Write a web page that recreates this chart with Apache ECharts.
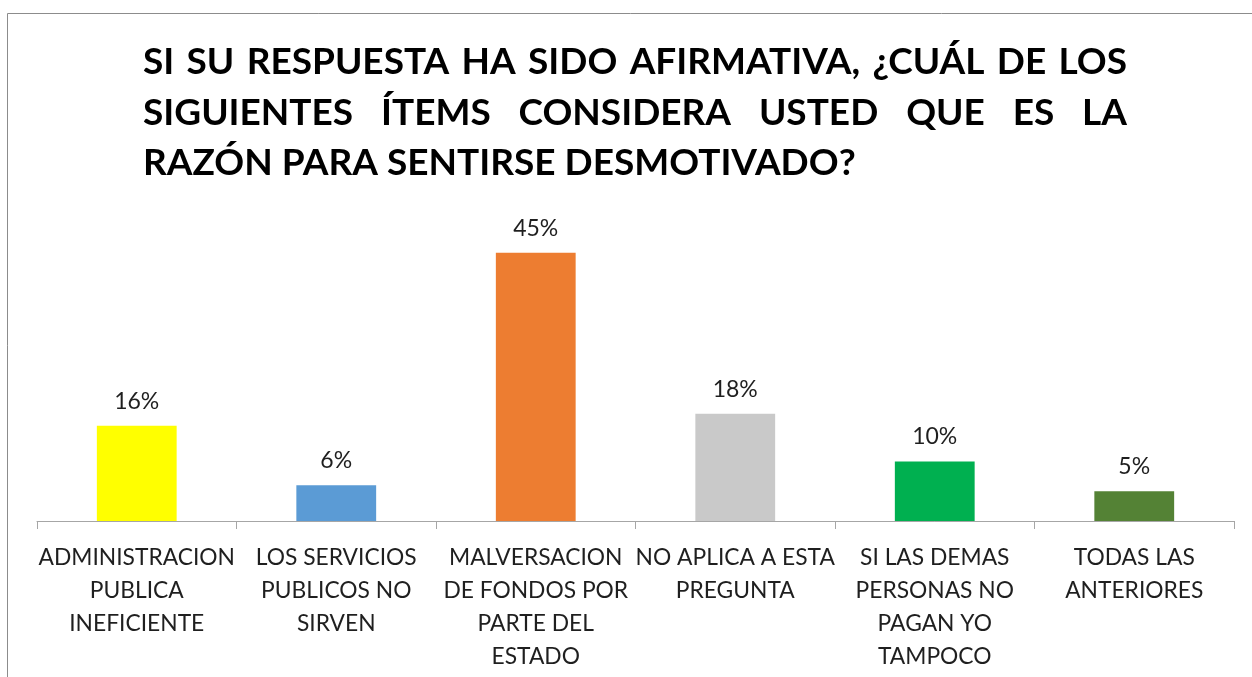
<!DOCTYPE html>
<html>
<head>
<meta charset="utf-8">
<script src="https://cdn.jsdelivr.net/npm/echarts@6/dist/echarts.min.js"></script>
<style>
  html, body { margin: 0; padding: 0; background: #fff; }
  #main { width: 1252px; height: 677px; }
</style>
</head>
<body>
<div id="main"></div>
<script>
var categories = [
  'ADMINISTRACION\nPUBLICA\nINEFICIENTE',
  'LOS SERVICIOS\nPUBLICOS NO\nSIRVEN',
  'MALVERSACION\nDE FONDOS POR\nPARTE DEL\nESTADO',
  'NO APLICA A ESTA\nPREGUNTA',
  'SI LAS DEMAS\nPERSONAS NO\nPAGAN YO\nTAMPOCO',
  'TODAS LAS\nANTERIORES'
];
var values = [0.16, 0.06, 0.45, 0.18, 0.10, 0.05];
var colors = ['#ffff00', '#5b9bd5', '#ed7d31', '#c9c9c9', '#00b050', '#548235'];
var titleLines = [
  'SI SU RESPUESTA HA SIDO AFIRMATIVA, ¿CUÁL DE LOS',
  'SIGUIENTES ÍTEMS CONSIDERA USTED QUE ES LA',
  'RAZÓN PARA SENTIRSE DESMOTIVADO?'
];

// justified title, as in the original (last line left aligned)
var titleFont = 'bold 37px Lato';
var titleLeft = 143, titleRight = 1127;
var titleY = [62, 113, 163];
var measureCtx = document.createElement('canvas').getContext('2d');
measureCtx.font = titleFont;
var titleGraphics = [];
titleLines.forEach(function (line, li) {
  var words = line.split(' ');
  var last = li === titleLines.length - 1;
  var widths = words.map(function (w) { return measureCtx.measureText(w).width; });
  var total = widths.reduce(function (a, b) { return a + b; }, 0);
  var gap = last ? measureCtx.measureText(' ').width
    : (titleRight - titleLeft - total) / (words.length - 1);
  var x = titleLeft;
  words.forEach(function (w, wi) {
    titleGraphics.push({
      type: 'text',
      x: x,
      y: titleY[li],
      silent: true,
      style: {
        text: w,
        font: titleFont,
        fill: '#000',
        textVerticalAlign: 'middle'
      }
    });
    x += widths[wi] + gap;
  });
});

var chartDom = document.getElementById('main');
var myChart = echarts.init(chartDom);
var option;

option = {
  backgroundColor: '#fff',
  animation: false,
  graphic: [
    {
      type: 'polyline',
      shape: { points: [[7.5, 700], [7.5, 13.5], [1260, 13.5]] },
      style: { stroke: '#8c8c8c', lineWidth: 1, fill: null },
      silent: true
    }
  ].concat(titleGraphics),
  grid: {
    left: 37,
    right: 18,
    top: 223,
    bottom: 156
  },
  xAxis: {
    type: 'category',
    data: categories,
    axisLine: { lineStyle: { color: '#a6a6a6', width: 1 } },
    axisTick: { show: true, length: 8, lineStyle: { color: '#a6a6a6' } },
    axisLabel: {
      interval: 0,
      margin: 20,
      fontFamily: 'Lato',
      fontSize: 22.8,
      lineHeight: 33,
      color: '#1f1f1f'
    }
  },
  yAxis: {
    type: 'value',
    min: 0,
    max: 0.5,
    show: false,
    splitLine: { show: false }
  },
  series: [
    {
      type: 'bar',
      barWidth: '40%',
      data: values.map(function (v, i) {
        return { value: v, itemStyle: { color: colors[i] } };
      }),
      label: {
        show: true,
        position: 'top',
        distance: 13,
        fontFamily: 'Lato',
        fontSize: 23,
        color: '#1f1f1f',
        formatter: function (p) {
          return Math.round(p.value * 100) + '%';
        }
      }
    }
  ]
};

option && myChart.setOption(option);
</script>
</body>
</html>
